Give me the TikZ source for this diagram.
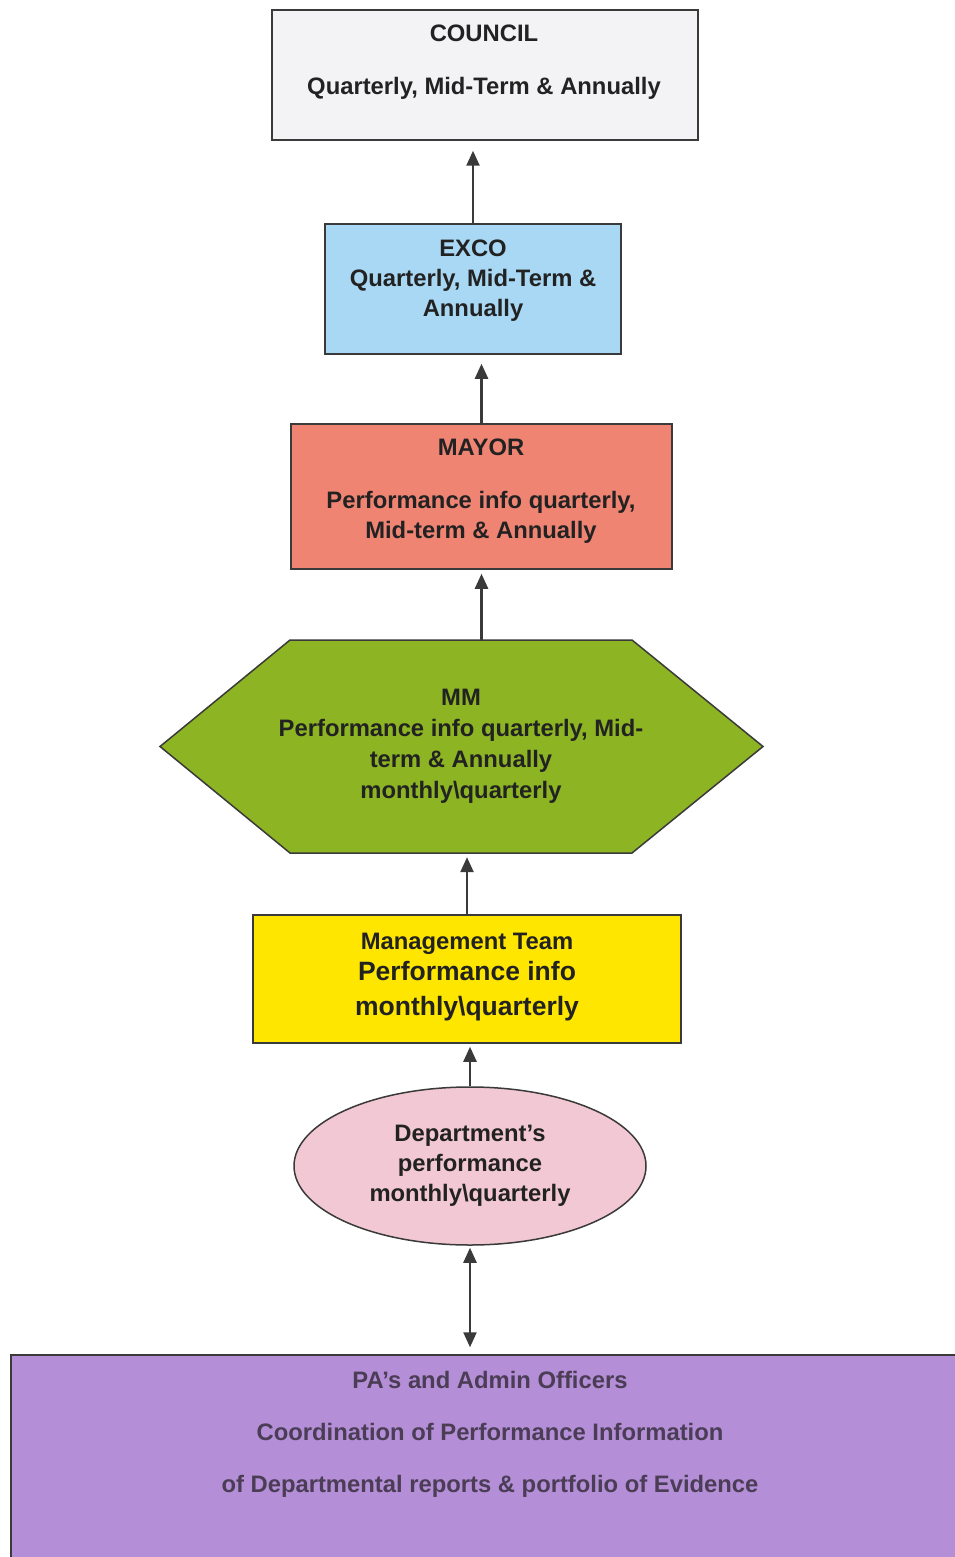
\documentclass[tikz,border=0pt]{standalone}
\usepackage{fontspec}
\setmainfont{Liberation Sans}
\usetikzlibrary{arrows.meta,shapes.geometric,backgrounds,calc}
\definecolor{edge}{HTML}{3A3A3A}
\definecolor{ink}{HTML}{222222}
\definecolor{councilc}{HTML}{F3F3F5}
\definecolor{excoc}{HTML}{A8D8F4}
\definecolor{mayorc}{HTML}{EF8473}
\definecolor{mmc}{HTML}{8CB423}
\definecolor{mtc}{HTML}{FFE600}
\definecolor{depc}{HTML}{F2C8D4}
\definecolor{pac}{HTML}{B48ED6}
\definecolor{paink}{HTML}{4A3D55}
\begin{document}
\begin{tikzpicture}[x=1pt,y=-1pt,
  box/.style={draw=edge,line width=1.5pt,inner sep=0pt},
  txt/.style={inner sep=0pt,align=center,text=ink,font=\fontsize{23.8}{30}\selectfont\bfseries},
  conn/.style={draw=edge,line width=2.4pt,-{Triangle[width=13pt,length=15pt]}}
]
\useasboundingbox (0,0) rectangle (955,1557);
\begin{scope}[on background layer]
\fill[white] (0,0) rectangle (955,1557);
\end{scope}

% COUNCIL
\node[box,fill=councilc,minimum width=426pt,minimum height=130pt] (council) at (485,75) {};
\node[txt] (councilT) at (484,62.5) {COUNCIL\\[23pt]Quarterly, Mid-Term \& Annually};

% EXCO
\node[box,fill=excoc,minimum width=296pt,minimum height=130pt] (exco) at (473,289) {};
\node[txt] (excoT) at (473,280.5) {EXCO\\Quarterly, Mid-Term \&\\Annually};

% MAYOR
\node[box,fill=mayorc,minimum width=381pt,minimum height=145pt] (mayor) at (481.5,496.5) {};
\node[txt] (mayorT) at (481,491.5) {MAYOR\\[23pt]Performance info quarterly,\\Mid-term \& Annually};

% MM hexagon
\node[txt,font=\fontsize{23.8}{31}\selectfont\bfseries,minimum height=213pt] (mm) at (461,746.5)
  {MM\\Performance info quarterly, Mid-\\term \& Annually\\monthly\textbackslash quarterly};
\begin{scope}[on background layer]
\draw[draw=edge,line width=1.5pt,fill=mmc,line join=miter]
  ($(mm.center)+(-171,-106.5)$) -- ($(mm.center)+(171,-106.5)$) -- ($(mm.center)+(302,0)$)
  -- ($(mm.center)+(171,106.5)$) -- ($(mm.center)+(-171,106.5)$) -- ($(mm.center)+(-301,0)$) -- cycle;
\end{scope}

% Management Team
\node[box,fill=mtc,minimum width=428pt,minimum height=128pt] (mt) at (467,979) {};
\node[txt] (mtT) at (467,977) {Management Team\\[1pt]\fontsize{26.5}{35}\selectfont Performance info\\[5pt]\fontsize{26.5}{35}\selectfont monthly\textbackslash quarterly};

% Department ellipse
\node[box,ellipse,fill=depc,minimum width=352pt,minimum height=158pt,txt] (dep) at (470,1166)
  {Department’s\\performance\\monthly\textbackslash quarterly};

% PA box
\node[box,fill=pac,minimum width=954pt,minimum height=210pt] (pa) at (488,1460) {};
\node[txt,text=paink] (paT) at (490,1434) {PA's and Admin Officers\\[22pt]Coordination of Performance Information\\[22pt]of Departmental reports \& portfolio of Evidence};

% connectors
\draw[conn,shorten >=10pt] (exco.north) -- (exco.north |- council.south);
\draw[conn,shorten >=9pt] (mayor.north) -- (mayor.north |- exco.south);
\draw[conn,shorten >=4pt] (mayor.south |- mm.north) -- (mayor.south);
\draw[conn,shorten >=4pt] (mt.north) -- (mt.north |- mm.south);
\draw[conn,shorten >=3pt] (dep.north) -- (dep.north |- mt.south);
\draw[conn,{Triangle[width=13pt,length=15pt]}-{Triangle[width=13pt,length=15pt]},shorten <=2pt,shorten >=7pt] (dep.south) -- (dep.south |- pa.north);
\end{tikzpicture}
\end{document}
